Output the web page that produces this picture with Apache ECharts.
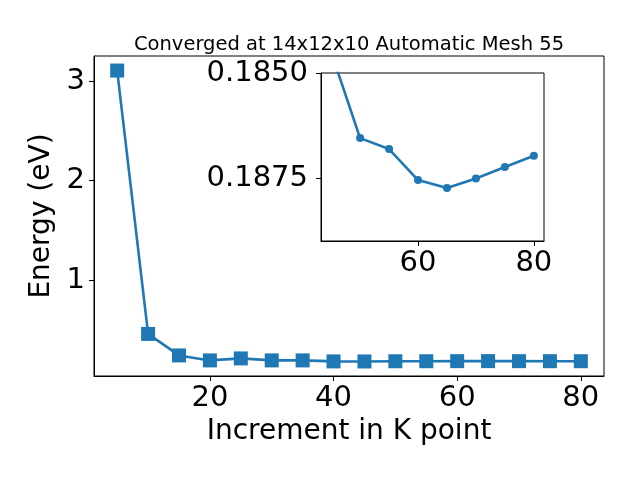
<!DOCTYPE html>
<html>
<head>
<meta charset="utf-8">
<script src="https://cdn.jsdelivr.net/npm/echarts@6/dist/echarts.min.js"></script>
<style>html,body{margin:0;padding:0;background:#fff}#c{width:640px;height:480px}</style>
</head>
<body>
<div id="c"></div>
<script>
const kpoints = [5, 10, 15, 20, 25, 30, 35, 40, 45, 50, 55, 60, 65, 70, 75, 80];
const energies = [3.107, 0.461, 0.245, 0.195, 0.215, 0.195, 0.195, 0.185, 0.1845, 0.18655, 0.18681, 0.18755, 0.18774, 0.18751, 0.18724, 0.18697];
const insetStart = 8;
const mainXTicks = [20, 40, 60, 80];
const mainYTicks = [1, 2, 3];
const insetXTicks = [60, 80];
const insetYTicks = [0.185, 0.1875];
const titleText = 'Converged at 14x12x10 Automatic Mesh 55';
const xLabel = 'Increment in K point';
const yLabel = 'Energy (eV)';

const FONT = 'DejaVu Sans';
const blue = '#1f77b4';
const mainData = kpoints.map((k, i) => [k, energies[i]]);
const insetData = kpoints.slice(insetStart).map((k, i) => [k, energies[insetStart + i]]);

const chart = echarts.init(document.getElementById('c'), null, {renderer: 'canvas'});
const axisCommon = {
  axisLine: {show: true, onZero: false, lineStyle: {color: '#000', width: 1}},
  axisTick: {show: true, inside: false, length: 5, lineStyle: {color: '#000', width: 1}},
  splitLine: {show: false}
};
const TICKFS = 29;
chart.setOption({
  animation: false,
  backgroundColor: '#fff',
  title: {
    text: titleText, left: 344, top: 30, textAlign: 'center',
    textStyle: {fontFamily: FONT, fontSize: 19.5, fontWeight: 'normal', color: '#000'}
  },
  grid: [
    {left: 94, top: 56, width: 510, height: 320, show: true, borderColor: '#000', borderWidth: 1, backgroundColor: '#fff'},
    {left: 321, top: 73, width: 223, height: 168, show: true, borderColor: '#000', borderWidth: 1, backgroundColor: '#fff', z: 10}
  ],
  xAxis: [
    Object.assign({}, axisCommon, {
      type: 'value', gridIndex: 0, min: 1.25, max: 83.75,
      axisTick: Object.assign({}, axisCommon.axisTick, {customValues: mainXTicks}),
      axisLabel: {customValues: mainXTicks, fontFamily: FONT, fontSize: TICKFS, color: '#000', margin: 8},
      name: xLabel, nameLocation: 'middle', nameGap: 42,
      nameTextStyle: {fontFamily: FONT, fontSize: 28, color: '#000'}
    }),
    Object.assign({}, axisCommon, {
      type: 'value', gridIndex: 1, min: 43.25, max: 81.75, z: 11,
      axisTick: Object.assign({}, axisCommon.axisTick, {customValues: insetXTicks}),
      axisLabel: {customValues: insetXTicks, fontFamily: FONT, fontSize: TICKFS, color: '#000', margin: 8}
    })
  ],
  yAxis: [
    Object.assign({}, axisCommon, {
      type: 'value', gridIndex: 0, min: 0.0384, max: 3.253,
      axisTick: Object.assign({}, axisCommon.axisTick, {customValues: mainYTicks}),
      axisLabel: {customValues: mainYTicks, fontFamily: FONT, fontSize: TICKFS, color: '#000', margin: 9},
      name: yLabel, nameLocation: 'middle', nameGap: 30, nameRotate: 90,
      nameTextStyle: {fontFamily: FONT, fontSize: 28, color: '#000'}
    }),
    Object.assign({}, axisCommon, {
      type: 'value', gridIndex: 1, min: 0.185, max: 0.189, inverse: true, z: 11,
      axisTick: Object.assign({}, axisCommon.axisTick, {customValues: insetYTicks}),
      axisLabel: {customValues: insetYTicks, fontFamily: FONT, fontSize: TICKFS, color: '#000', margin: 13,
        formatter: v => v.toFixed(4)}
    })
  ],
  series: [
    {
      type: 'line', xAxisIndex: 0, yAxisIndex: 0, data: mainData,
      symbol: 'rect', symbolSize: 14, showAllSymbol: true,
      lineStyle: {color: blue, width: 2.6}, itemStyle: {color: blue}, z: 3
    },
    {
      type: 'line', xAxisIndex: 1, yAxisIndex: 1, data: insetData, clip: true,
      symbol: 'circle', symbolSize: 8, showAllSymbol: true,
      lineStyle: {color: blue, width: 2.6}, itemStyle: {color: blue}, z: 12
    }
  ]
});
</script>
</body>
</html>
